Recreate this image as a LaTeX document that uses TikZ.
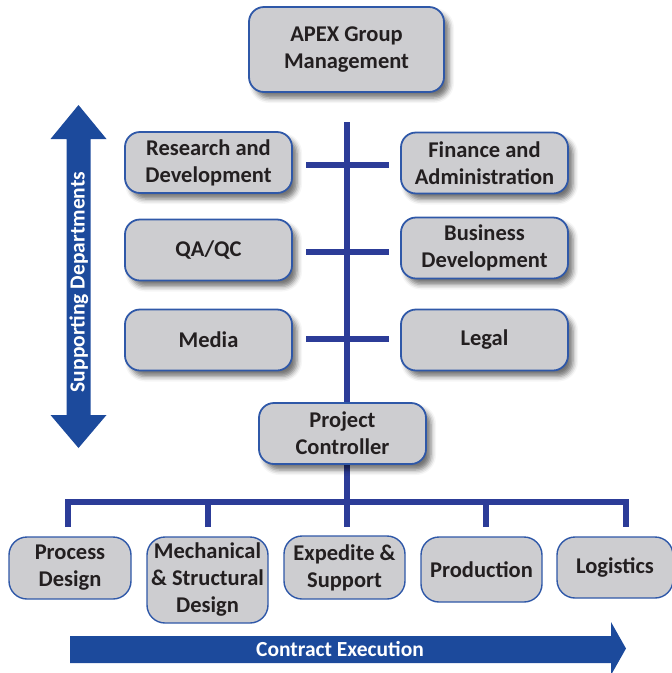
\documentclass[tikz,border=0pt]{standalone}
\usepackage{fontspec}
\setmainfont{Carlito}
\usetikzlibrary{shadows.blur,backgrounds,calc}
\definecolor{boxfill}{HTML}{CDCDD0}
\definecolor{boxline}{HTML}{2F58A8}
\definecolor{conn}{HTML}{2C3C98}
\definecolor{arrowblue}{HTML}{1C4A9C}
\definecolor{txt}{HTML}{231F20}
\tikzset{
  boxbase/.style={rectangle, fill=boxfill, draw=boxline, text=txt,
    font=\bfseries\fontsize{22.5}{27}\selectfont, align=center, inner sep=0pt},
  topbox/.style={boxbase, rounded corners=15pt, line width=1.8pt,
    minimum width=167pt, minimum height=61pt,
    blur shadow={shadow xshift=5pt, shadow yshift=-6pt, shadow blur radius=5pt, shadow opacity=55}},
  botbox/.style={boxbase, rounded corners=18pt, line width=1.4pt},
  connline/.style={draw=conn, line width=6pt},
  arrowtext/.style={text=white, font=\bfseries\fontsize{21.5}{25}\selectfont, inner sep=0pt}
}
\begin{document}
\begin{tikzpicture}[x=1pt,y=-1pt]
\useasboundingbox (0,0) rectangle (672,673);
% boxes
\node[topbox, minimum width=195pt, minimum height=85pt] (apex) at (346.5,49.5) {APEX Group\\Management};
\node[topbox] (rd) at (208.5,162.5) {Research and\\Development};
\node[topbox] (fa) at (484.5,163) {Finance and\\Administration};
\node[topbox] (qa) at (208.5,250) {QA/QC};
\node[topbox] (bd) at (484.5,248) {Business\\Development};
\node[topbox] (media) at (208.5,340) {Media};
\node[topbox] (legal) at (484.5,340) {Legal};
\node[topbox] (pc) at (342.5,433.5) {Project\\Controller};
\node[botbox, minimum width=122pt, minimum height=62pt] (pd) at (70,568) {Process\\Design};
\node[botbox, minimum width=121pt, minimum height=86pt] (ms) at (207.5,580) {Mechanical\\\& Structural\\Design};
\node[botbox, minimum width=121pt, minimum height=63pt] (es) at (344.5,567.5) {Expedite \&\\Support};
\node[botbox, minimum width=121pt, minimum height=65pt] (prod) at (481.5,569.5) {Production};
\node[botbox, minimum width=116pt, minimum height=61pt] (log) at (615,567.5) {Logistics};
% connectors
\coordinate (ttop) at (347,122);
\coordinate (tbot) at (347,527);
\coordinate (l1) at (306,165);  \coordinate (r1) at (389,165);
\coordinate (l2) at (306,252);  \coordinate (r2) at (389,252);
\coordinate (l3) at (306,339);  \coordinate (r3) at (389,339);
\coordinate (bus1) at (68,502);
\coordinate (bus5) at (626,502);
\coordinate (d1) at (68,527);
\coordinate (d2) at (208,527);
\coordinate (d4) at (486,527);
\coordinate (d5) at (626,527);
\begin{scope}[on background layer]
\draw[connline] (ttop) -- (tbot);
\draw[connline] (l1) -- (r1);
\draw[connline] (l2) -- (r2);
\draw[connline] (l3) -- (r3);
\draw[connline] (d1) -- (bus1) -- (bus5) -- (d5);
\draw[connline] (d2) -- (d2 |- bus1);
\draw[connline] (d4) -- (d4 |- bus1);
\end{scope}
% supporting departments arrow
\fill[arrowblue] (66.5,139) -- (50.5,139) -- (78.5,105) -- (106.5,139) -- (90.5,139)
  -- (90.5,415) -- (106.5,415) -- (78.5,448) -- (50.5,415) -- (66.5,415) -- cycle;
\node[arrowtext, rotate=90] (sd) at (79,282) {Supporting Departments};
% contract execution arrow
\fill[arrowblue] (70,636) -- (611,636) -- (611,622) -- (626,648.5) -- (611,675)
  -- (611,663) -- (70,663) -- cycle;
\node[arrowtext] (ce) at (340,649.5) {Contract Execution};
\end{tikzpicture}
\end{document}
